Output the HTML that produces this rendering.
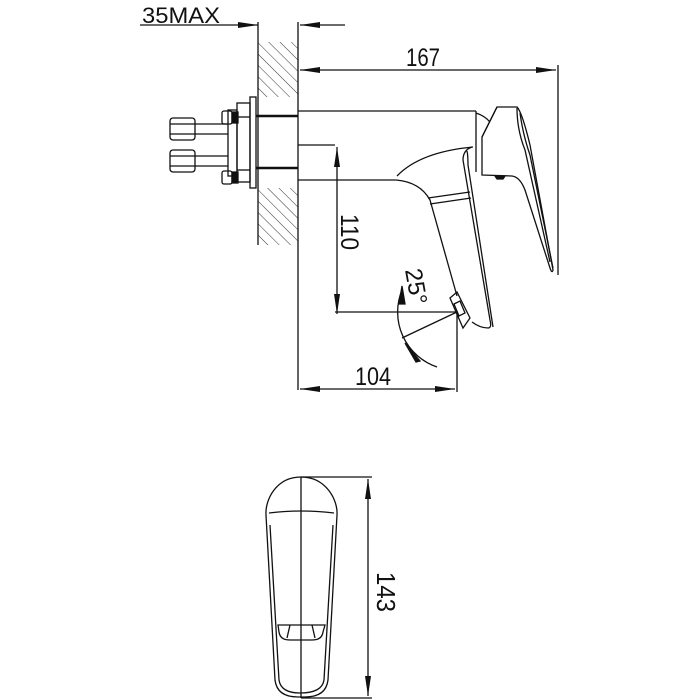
<!DOCTYPE html>
<html><head><meta charset="utf-8"><style>
html,body{margin:0;padding:0;background:#fff;}
svg{display:block;}
text{font-family:"Liberation Sans",sans-serif;fill:#111;}
</style></head><body>
<svg width="700" height="700" viewBox="0 0 700 700" xmlns="http://www.w3.org/2000/svg">
<defs>
<pattern id="h" width="8" height="8" patternUnits="userSpaceOnUse" patternTransform="rotate(-45)">
<line x1="0" y1="0" x2="0" y2="8" stroke="#333" stroke-width="1"/>
</pattern>
<marker id="b" viewBox="0 0 20 6" refX="20" refY="3" markerWidth="20" markerHeight="6" markerUnits="userSpaceOnUse" orient="auto-start-reverse">
<path d="M0,0 L20,3 L0,6 Z" fill="#111"/>
</marker>
</defs>
<g fill="none" stroke="#111" stroke-width="1.3">
<!-- 35MAX -->
<text x="142" y="23" font-size="22" stroke="none" textLength="78" lengthAdjust="spacingAndGlyphs">35MAX</text>
<line x1="140" y1="25" x2="258" y2="25" marker-end="url(#b)"/>
<line x1="345" y1="25" x2="300" y2="25" marker-end="url(#b)"/>
<!-- wall -->
<rect x="258" y="42" width="40" height="203" fill="url(#h)" stroke="none"/>
<rect x="256" y="97" width="44" height="91" fill="#fff" stroke="none"/>
<line x1="258" y1="22" x2="258" y2="245"/>
<line x1="298" y1="22" x2="298" y2="390"/>
<!-- 167 -->
<text x="406" y="66" font-size="25" stroke="none" textLength="34" lengthAdjust="spacingAndGlyphs">167</text>
<line x1="300" y1="70" x2="556" y2="70" marker-start="url(#b)" marker-end="url(#b)"/>
<line x1="558" y1="65" x2="558" y2="275"/>
<!-- left assembly -->
<rect x="250" y="97" width="6" height="91"/>
<rect x="237" y="103" width="13" height="79"/>
<line x1="237" y1="117" x2="250" y2="117"/><line x1="237" y1="170" x2="250" y2="170"/>
<rect x="228" y="110" width="9" height="66"/>
<rect x="222" y="111" width="10" height="13" rx="2"/><rect x="232" y="112" width="6" height="11" fill="#111"/>
<rect x="222" y="171" width="10" height="13" rx="2"/><rect x="232" y="172" width="6" height="11" fill="#111"/>
<line x1="195" y1="124" x2="228" y2="124"/><line x1="195" y1="134" x2="228" y2="134"/>
<line x1="195" y1="156" x2="228" y2="156"/><line x1="195" y1="166" x2="228" y2="166"/>
<rect x="170" y="118" width="25" height="22" rx="3"/><line x1="170" y1="124" x2="195" y2="124"/><line x1="170" y1="134" x2="195" y2="134"/>
<rect x="170" y="150" width="25" height="22" rx="3"/><line x1="170" y1="156" x2="195" y2="156"/><line x1="170" y1="166" x2="195" y2="166"/>
<line x1="256" y1="116" x2="298" y2="116" stroke-width="2.5"/>
<line x1="256" y1="168" x2="298" y2="168" stroke-width="2.5"/>
<!-- body -->
<line x1="298" y1="111" x2="476" y2="111"/>
<line x1="476" y1="111" x2="476" y2="172"/>
<line x1="298" y1="145" x2="335" y2="145"/>
<line x1="298" y1="180" x2="396" y2="180"/>
<path d="M396,180 Q420,182 430,200 L457,296"/>
<path d="M397,176 Q420,152 473,147"/>
<path d="M476,113 Q485,116 490,122"/>
<!-- spout -->
<path d="M472,147 Q463,150 463,160 L490,320 Q492,328 488,328 Q480,328 472,322"/>
<path d="M467,151 Q468,155 468,165 L493,327"/>
<path d="M428,198 L470,192"/><path d="M430,204 L471,198"/>
<!-- aerator -->
<path d="M450,298 L457,292 L470,318 L463,328 Z"/>
<path d="M454,304 L460,301 L465,313 L459,316 Z"/>
<!-- handle -->
<path d="M497,107 L517,107 Q522,112 530,145 L553,270 Q552,274 550,268 L525,190 Q520,177 512,176 L482,175 L482,137 Z"/>
<path d="M517,108 Q517,130 525,150 L550,262"/>
<path d="M520,113 Q523,135 530,155 L553,268"/>
<line x1="482" y1="137" x2="497" y2="107"/>
<path d="M495,176 L505,176 L503,179 L497,179 Z" fill="#111"/>
<!-- 110 -->
<line x1="337" y1="147" x2="337" y2="314" marker-start="url(#b)" marker-end="url(#b)"/>
<text transform="translate(336,232) rotate(90)" x="-18" y="-5" font-size="25" stroke="none" textLength="36" lengthAdjust="spacingAndGlyphs">110</text>
<line x1="335" y1="312" x2="458" y2="312"/>
<line x1="457" y1="312" x2="457" y2="392"/>
<!-- 104 -->
<text x="355" y="385" font-size="25" stroke="none" textLength="36" lengthAdjust="spacingAndGlyphs">104</text>
<line x1="300" y1="389" x2="455" y2="389" marker-start="url(#b)" marker-end="url(#b)"/>
<!-- 25 deg -->
<line x1="457" y1="312" x2="402" y2="338"/>
<path d="M402,290 A58,58 0 0 0 437,367" />
<path d="M399,304 L402,286 L405,304 Z" fill="#111"/>
<path d="M405,343 L420,361 L416,362 Z" fill="#111"/>
<text transform="translate(405,270) rotate(80)" font-size="24" stroke="none">25°</text>
<!-- bottom view -->
<path d="M301,477 C276,477 265,500 266,515 L275,680 Q277,697 298,697 L305,697 Q326,697 328,680 L337,515 C338,500 326,477 301,477 Z"/>
<path d="M269,513 Q301,509 334,513"/>
<path d="M270,525 L279,680 Q281,693 300,693 Q322,693 324,680 L333,525"/>
<path d="M278,625 L325,625 L323,632 Q322,640 312,640 L290,640 Q280,640 279,632 Z"/>
<line x1="290" y1="625" x2="287" y2="638"/><line x1="312" y1="625" x2="315" y2="638"/>
<line x1="301" y1="477" x2="301" y2="698"/>
<line x1="301" y1="477" x2="372" y2="477"/>
<line x1="301" y1="698" x2="372" y2="698"/>
<line x1="368" y1="479" x2="368" y2="696" marker-start="url(#b)" marker-end="url(#b)"/>
<text transform="translate(372,592) rotate(90)" x="-20" y="-5" font-size="26" stroke="none" textLength="40" lengthAdjust="spacingAndGlyphs">143</text>
</g>
</svg>
</body></html>
